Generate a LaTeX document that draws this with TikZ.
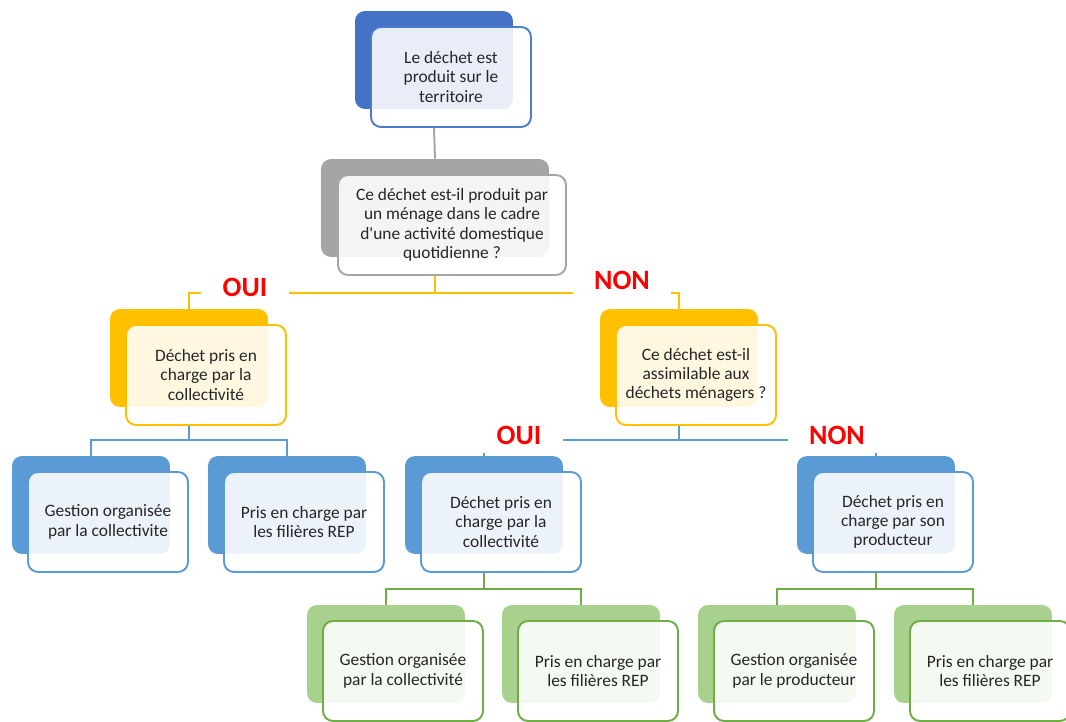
\documentclass[tikz,border=0pt]{standalone}
\usepackage{fontspec}
\setmainfont{Carlito}
\definecolor{bleufonce}{HTML}{4472C4}
\definecolor{bleufoncetrait}{HTML}{4F7BCB}
\definecolor{gris}{HTML}{A5A5A5}
\definecolor{gristrait}{HTML}{A5A5A5}
\definecolor{jaune}{HTML}{FFC000}
\definecolor{jaunetrait}{HTML}{FFC000}
\definecolor{bleu}{HTML}{5B9BD5}
\definecolor{bleutrait}{HTML}{5B9BD5}
\definecolor{vert}{HTML}{A9D18E}
\definecolor{verttrait}{HTML}{70AD47}
\tikzset{
    fond/.style={fill=#1, rounded corners=0.2cm, minimum width=3.16cm, minimum height=1.96cm, inner sep=0pt},
    carte/.style={draw=#1trait, line width=1.1pt, fill=white, fill opacity=0.88, text opacity=1,
        rounded corners=0.2cm, minimum width=3.2cm, minimum height=2cm, inner sep=2pt,
        align=center, text=black!85, font=\fontsize{9.9}{11}\selectfont},
    lien/.style={draw=#1trait, line width=1.1pt},
    reponse/.style={fill=white, text=red, inner xsep=0.43cm, inner ysep=0.18cm,
        font=\fontsize{15.9}{18}\selectfont\bfseries}
}
\newcommand\bloc[6][]{
    \node[fond=#5,#1] (#2-b) at (#3,#4) {};
    \node[carte=#5,#1] (#2) at (#3+17,#4+17) {#6};
}
\newcommand\apos{\XeTeXglyph\XeTeXcharglyph"27\relax}

\begin{document}
\begin{tikzpicture}[x=0.02cm,y=-0.02cm]
    \useasboundingbox (0,0) rectangle (1066,722);
    \bloc{origine}{434}{60}{bleufonce}{Le déchet est\\produit sur le\\territoire}
    \bloc[minimum width=4.56cm]{menage}{435}{208}{gris}{Ce déchet est-il produit par\\un ménage dans le cadre\\d\apos une activité domestique\\quotidienne ?}
    \bloc{collect}{189}{358}{jaune}{Déchet pris en\\charge par la\\collectivité}
    \bloc{assim}{679}{358}{jaune}{Ce déchet est-il\\assimilable aux\\déchets ménagers ?}
    \bloc{gestcoll}{91}{505}{bleu}{Gestion organisée\\par la collectivite}
    \bloc{rep1}{287}{505}{bleu}{Pris en charge par\\les filières REP}
    \bloc{collect2}{484}{505}{bleu}{Déchet pris en\\charge par la\\collectivité}
    \bloc{prod}{876}{505}{bleu}{Déchet pris en\\charge par son\\producteur}
    \bloc{gestcoll2}{386}{654}{vert}{Gestion organisée\\par la collectivité}
    \bloc{rep2}{581}{654}{vert}{Pris en charge par\\les filières REP}
    \bloc{gestprod}{777}{654}{vert}{Gestion organisée\\par le producteur}
    \bloc{rep3}{973}{654}{vert}{Pris en charge par\\les filières REP}
    \draw[lien=gris] (origine.south -| origine-b) -- (menage-b.north);
    \draw[lien=jaune] (menage.south -| menage-b) -- ++(0,17) -| (collect-b.north);
    \draw[lien=jaune] (menage.south -| menage-b) -- ++(0,17) -| (assim-b.north);
    \draw[lien=bleu] (collect.south -| collect-b) -- ++(0,14) -| (gestcoll-b.north);
    \draw[lien=bleu] (collect.south -| collect-b) -- ++(0,14) -| (rep1-b.north);
    \draw[lien=bleu] (assim.south -| assim-b) -- ++(0,14) -| (collect2-b.north);
    \draw[lien=bleu] (assim.south -| assim-b) -- ++(0,14) -| (prod-b.north);
    \draw[lien=vert] (collect2.south -| collect2-b) -- ++(0,16) -| (gestcoll2-b.north);
    \draw[lien=vert] (collect2.south -| collect2-b) -- ++(0,16) -| (rep2-b.north);
    \draw[lien=vert] (prod.south -| prod-b) -- ++(0,16) -| (gestprod-b.north);
    \draw[lien=vert] (prod.south -| prod-b) -- ++(0,16) -| (rep3-b.north);
    \node[reponse] (oui1) at (245,287) {OUI};
    \node[reponse] (non1) at (622,280) {NON};
    \node[reponse] (oui2) at (519,435) {OUI};
    \node[reponse] (non2) at (837,435) {NON};
\end{tikzpicture}
\end{document}
